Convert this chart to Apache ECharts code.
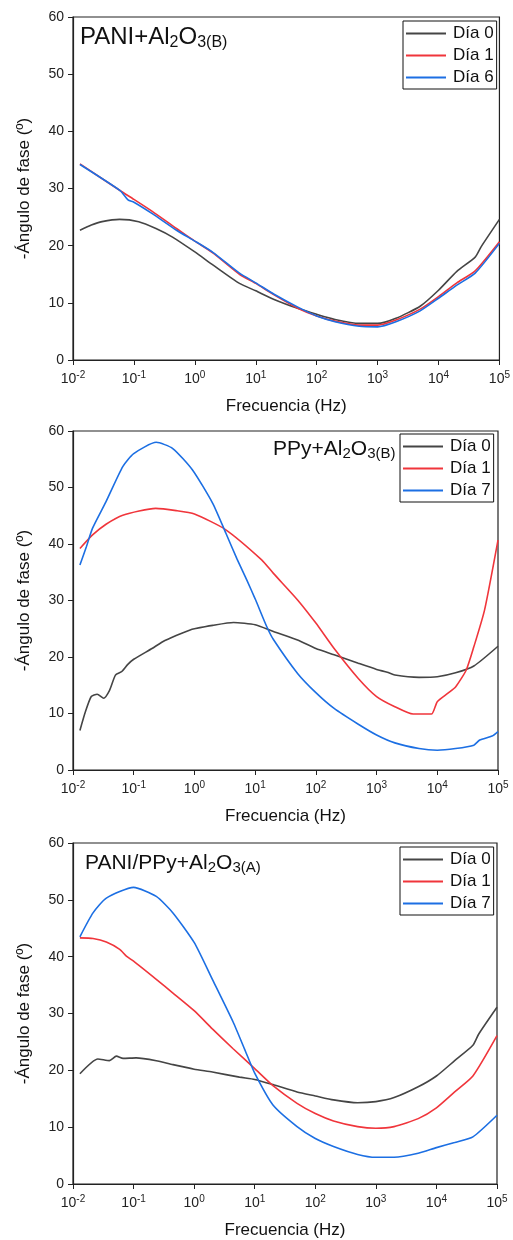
<!DOCTYPE html>
<html>
<head>
<meta charset="utf-8">
<script src="https://cdn.jsdelivr.net/npm/echarts@6/dist/echarts.min.js"></script>
<style>
  html, body { margin: 0; padding: 0; background: #fff; }
  #main { width: 513px; height: 1240px; }
</style>
</head>
<body>
<div id="main"></div>
<script>
// panel 1: PANI+Al2O3(B)  [Hz, -phase deg]
const p1Dia0 = [[0.013,22.7],[0.02,23.6],[0.03,24.2],[0.058,24.6],[0.12,24.2],[0.23,23.0],[0.43,21.5],[1,18.9],[2,16.6],[5.4,13.4],[10,12.1],[20,10.6],[50,9.0],[100,8.0],[200,7.1],[500,6.4],[1000,6.4],[2000,7.3],[5000,9.4],[1e4,12.2],[2e4,15.5],[4e4,18.0],[5e4,19.8],[1e5,24.6]]
const p1Dia1 = [[0.013,34.3],[0.06,29.6],[0.1,28.1],[0.2,26.0],[0.5,23.0],[1,20.8],[2,18.7],[5.4,15.0],[10,13.4],[20,11.4],[50,9.0],[100,7.7],[200,6.8],[500,6.1],[1000,6.1],[2000,7.0],[5000,8.9],[1e4,11.1],[2e4,13.5],[4e4,15.6],[1e5,20.7]]
const p1Dia6 = [[0.013,34.2],[0.06,29.6],[0.08,28.0],[0.1,27.6],[0.2,25.6],[0.5,22.7],[1,20.8],[2,18.8],[5.4,15.2],[10,13.5],[20,11.5],[50,9.2],[100,7.7],[200,6.7],[500,5.9],[1000,5.8],[2000,6.7],[5000,8.6],[1e4,10.8],[2e4,13.1],[4e4,15.2],[1e5,20.4]]

// panel 2: PPy+Al2O3(B)
const p2Dia0 = [[0.013,7.0],[0.016,10.3],[0.02,13.0],[0.025,13.4],[0.032,12.7],[0.04,14.1],[0.05,16.8],[0.063,17.4],[0.08,18.7],[0.1,19.6],[0.2,21.5],[0.3,22.7],[0.5,23.8],[0.85,24.8],[1,25.0],[2,25.6],[4.4,26.1],[10,25.7],[20,24.5],[50,23.0],[100,21.5],[200,20.4],[500,18.9],[1000,17.8],[1500,17.3],[2000,16.8],[5000,16.4],[1e4,16.5],[2e4,17.2],[4e4,18.4],[1e5,21.9]]
const p2Dia1 = [[0.013,39.2],[0.021,41.6],[0.035,43.5],[0.066,45.1],[0.23,46.3],[0.5,45.9],[1,45.3],[3.2,42.6],[12.8,37.2],[20,34.8],[50,30.1],[100,26.0],[200,21.5],[500,16.2],[1000,13.0],[2000,11.2],[4000,9.9],[8000,9.9],[1e4,12.1],[1.5e4,13.6],[2e4,14.7],[3e4,17.7],[4e4,21.8],[6e4,28.3],[1e5,40.7]]
const p2Dia7 = [[0.013,36.3],[0.0166,39.5],[0.021,42.8],[0.035,47.5],[0.066,53.7],[0.1,56.0],[0.235,58.0],[0.44,56.9],[0.93,53.1],[2,47.2],[3.3,41.9],[5,37.4],[7.3,33.6],[10,30.3],[15.5,25.4],[20,23.1],[50,17.1],[100,13.7],[200,10.9],[500,8.1],[1000,6.2],[2000,4.8],[5000,3.8],[1e4,3.5],[2e4,3.8],[4e4,4.4],[5e4,5.3],[8e4,6.0],[1e5,6.8]]

// panel 3: PANI/PPy+Al2O3(A)
const p3Dia0 = [[0.013,19.4],[0.0257,22.0],[0.04,21.7],[0.052,22.5],[0.067,22.1],[0.11,22.2],[0.237,21.7],[0.447,21.0],[1,20.2],[2,19.7],[5.6,18.8],[10,18.4],[20,17.5],[50,16.2],[100,15.5],[200,14.8],[500,14.3],[1000,14.5],[2000,15.2],[5000,17.1],[1e4,19.0],[2e4,21.7],[4e4,24.4],[5e4,26.4],[1e5,31.1]]
const p3Dia1 = [[0.013,43.3],[0.0214,43.2],[0.0355,42.6],[0.059,41.3],[0.076,40.1],[0.1,39.2],[0.237,36.0],[0.447,33.6],[1,30.5],[2,27.3],[4.4,23.8],[10,20.3],[20,17.3],[50,14.2],[100,12.4],[200,11.1],[500,10.1],[1000,9.8],[2000,10.1],[5000,11.5],[1e4,13.4],[2e4,16.2],[4e4,19.0],[1e5,26.1]]
const p3Dia7 = [[0.013,43.5],[0.0214,47.7],[0.0355,50.3],[0.1,52.2],[0.237,50.6],[0.447,47.7],[1,42.5],[2,36.0],[4.4,28.5],[7,23.4],[10,19.5],[20,13.9],[50,10.1],[100,8.0],[200,6.6],[500,5.2],[1000,4.7],[2000,4.7],[5000,5.4],[1e4,6.4],[2e4,7.3],[4e4,8.3],[1e5,12.1]]

const legend1 = ['Día 0', 'Día 1', 'Día 6']
const legend23 = ['Día 0', 'Día 1', 'Día 7']

const GREY = '#454545'
const RED = '#f0353b'
const BLUE = '#1c6fe3'
const FONT = '"Liberation Sans", Arial, sans-serif'

const chart = echarts.init(document.getElementById('main'))

// 3 panels stacked
const grids = [
  { left: 73, top: 17, width: 428, height: 343 },
  { left: 73, top: 431, width: 425, height: 339 },
  { left: 73, top: 843, width: 424, height: 343 }
]

function xAxisFor(i) {
  return {
    type: 'log', logBase: 10, gridIndex: i, min: 0.01, max: 1e5,
    name: 'Frecuencia (Hz)', nameLocation: 'middle', nameGap: 38,
    nameTextStyle: { fontSize: 17, color: '#111', fontFamily: FONT },
    axisLine: { lineStyle: { color: '#222', width: 1.2 } },
    axisTick: { show: true, inside: false, length: 5, lineStyle: { color: '#222' } },
    minorTick: { show: false },
    splitLine: { show: false },
    axisLabel: {
      margin: 10, color: '#222', fontFamily: FONT,
      formatter: v => '10{sup|' + Math.round(Math.log10(v)) + '}',
      rich: {
        sup: { fontSize: 10, padding: [0, 0, 8, 0], color: '#222', fontFamily: FONT }
      },
      fontSize: 14
    }
  }
}

function yAxisFor(i) {
  return {
    type: 'value', gridIndex: i, min: 0, max: 60, interval: 10,
    name: '-Ángulo de fase (º)', nameLocation: 'middle', nameGap: 40,
    nameTextStyle: { fontSize: 17, color: '#111', fontFamily: FONT },
    axisLine: { show: true, lineStyle: { color: '#222', width: 1.2 } },
    axisTick: { show: true, inside: false, length: 5, lineStyle: { color: '#222' } },
    splitLine: { show: false },
    axisLabel: { margin: 9, fontSize: 14, color: '#222', fontFamily: FONT }
  }
}

function line(name, data, color, i) {
  return {
    name, type: 'line', data, xAxisIndex: i, yAxisIndex: i,
    symbol: 'none', smooth: 0.2, animation: false,
    lineStyle: { color, width: 1.6 }, itemStyle: { color }
  }
}

function titleStyle(size, subSize) {
  return {
    fontSize: size, fontWeight: 'normal', color: '#111', fontFamily: FONT,
    rich: { sub: { fontSize: subSize, padding: [Math.round(size * 0.45), 0, 0, 0], color: '#111', fontFamily: FONT } }
  }
}

function legendFor(data, left, top) {
  return {
    data, orient: 'vertical', left, top,
    icon: 'path://M0,0 L40,0 L40,2 L0,2 Z',
    itemWidth: 40, itemHeight: 2, itemGap: 5,
    borderColor: '#111', borderWidth: 1, borderRadius: 0,
    padding: [4, 3, 3, 3],
    textStyle: { fontSize: 17, color: '#111', fontFamily: FONT, padding: [0, 0, 0, 2] }
  }
}

const option = {
  backgroundColor: '#fff',
  animation: false,
  title: [
    { text: 'PANI+Al{sub|2}O{sub|3(B)}', left: 80, top: 24, padding: 0, textStyle: titleStyle(24, 16) },
    { text: 'PPy+Al{sub|2}O{sub|3(B)}', left: 273, top: 437, padding: 0, textStyle: titleStyle(21, 15) },
    { text: 'PANI/PPy+Al{sub|2}O{sub|3(A)}', left: 85, top: 851, padding: 0, textStyle: titleStyle(21, 15) }
  ],
  legend: [
    legendFor(legend1, 403, 21),
    legendFor(legend23, 400, 434),
    legendFor(legend23, 400, 847)
  ],
  grid: grids.map(g => Object.assign({ show: true, borderColor: '#222', borderWidth: 1.2, backgroundColor: 'transparent' }, g)),
  xAxis: [xAxisFor(0), xAxisFor(1), xAxisFor(2)],
  yAxis: [yAxisFor(0), yAxisFor(1), yAxisFor(2)],
  series: [
    line(legend1[0], p1Dia0, GREY, 0),
    line(legend1[1], p1Dia1, RED, 0),
    line(legend1[2], p1Dia6, BLUE, 0),
    line(legend23[0], p2Dia0, GREY, 1),
    line(legend23[1], p2Dia1, RED, 1),
    line(legend23[2], p2Dia7, BLUE, 1),
    line(legend23[0], p3Dia0, GREY, 2),
    line(legend23[1], p3Dia1, RED, 2),
    line(legend23[2], p3Dia7, BLUE, 2)
  ]
}

chart.setOption(option)
</script>
</body>
</html>
